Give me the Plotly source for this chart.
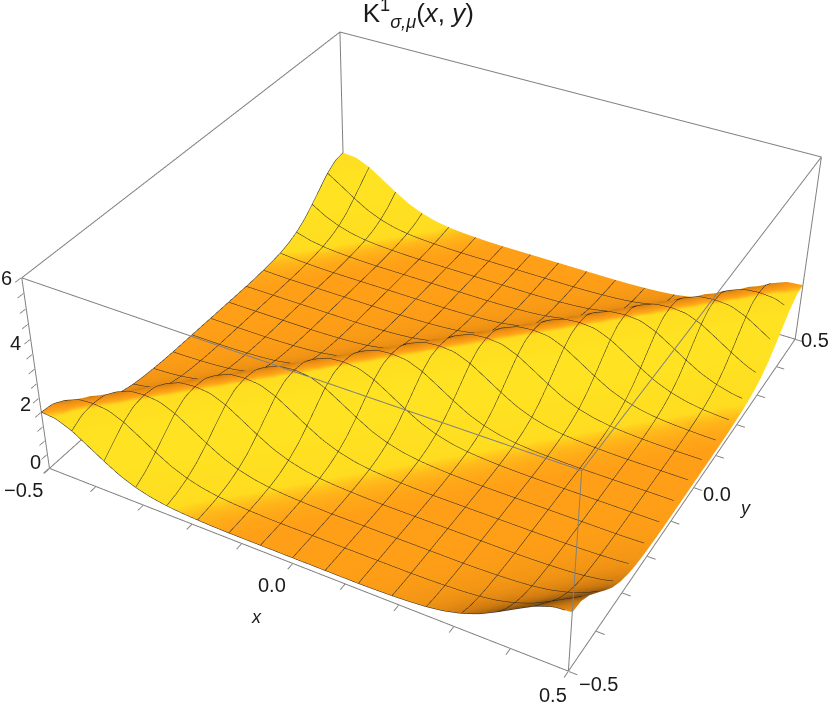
import numpy as np
import plotly.graph_objects as go

x_vals = [-0.5 + k / 32 for k in range(33)]
y_vals = [-0.5 + k / 32 for k in range(33)]
z_rows = [
[1.52,1.47,1.25,.92,.58,.27,.05,-.10,-.19,-.24,-.27,-.29,-.30,-.30,-.30,-.30,-.30,-.30,-.30,-.30,-.30,-.29,-.27,-.24,-.19,-.10,.05,.27,.58,.92,1.25,1.47,1.52],
[1.47,1.52,1.47,1.25,.92,.58,.27,.05,-.10,-.19,-.24,-.27,-.29,-.30,-.30,-.30,-.30,-.30,-.30,-.30,-.30,-.30,-.29,-.27,-.24,-.19,-.10,.05,.27,.58,.92,1.25,1.47],
[1.25,1.47,1.52,1.47,1.25,.92,.58,.27,.05,-.10,-.19,-.24,-.27,-.29,-.30,-.30,-.30,-.30,-.30,-.30,-.30,-.30,-.30,-.29,-.27,-.24,-.19,-.10,.05,.27,.58,.92,1.25],
[.92,1.25,1.47,1.52,1.47,1.25,.92,.58,.27,.05,-.10,-.19,-.24,-.27,-.29,-.30,-.30,-.30,-.30,-.30,-.30,-.30,-.30,-.30,-.29,-.27,-.24,-.19,-.10,.05,.27,.58,.92],
[.58,.92,1.25,1.47,1.52,1.47,1.25,.92,.58,.27,.05,-.10,-.19,-.24,-.27,-.29,-.30,-.30,-.30,-.30,-.30,-.30,-.30,-.30,-.30,-.29,-.27,-.24,-.19,-.10,.05,.27,.58],
[.27,.58,.92,1.25,1.47,1.52,1.47,1.25,.92,.58,.27,.05,-.10,-.19,-.24,-.27,-.29,-.30,-.30,-.30,-.30,-.30,-.30,-.30,-.30,-.30,-.29,-.27,-.24,-.19,-.10,.05,.27],
[.05,.27,.58,.92,1.25,1.47,1.52,1.47,1.25,.92,.58,.27,.05,-.10,-.19,-.24,-.27,-.29,-.30,-.30,-.30,-.30,-.30,-.30,-.30,-.30,-.30,-.29,-.27,-.24,-.19,-.10,.05],
[-.10,.05,.27,.58,.92,1.25,1.47,1.52,1.47,1.25,.92,.58,.27,.05,-.10,-.19,-.24,-.27,-.29,-.30,-.30,-.30,-.30,-.30,-.30,-.30,-.30,-.30,-.29,-.27,-.24,-.19,-.10],
[-.19,-.10,.05,.27,.58,.92,1.25,1.47,1.52,1.47,1.25,.92,.58,.27,.05,-.10,-.19,-.24,-.27,-.29,-.30,-.30,-.30,-.30,-.30,-.30,-.30,-.30,-.30,-.29,-.27,-.24,-.19],
[-.24,-.19,-.10,.05,.27,.58,.92,1.25,1.47,1.52,1.47,1.25,.92,.58,.27,.05,-.10,-.19,-.24,-.27,-.29,-.30,-.30,-.30,-.30,-.30,-.30,-.30,-.30,-.30,-.29,-.27,-.24],
[-.27,-.24,-.19,-.10,.05,.27,.58,.92,1.25,1.47,1.52,1.47,1.25,.92,.58,.27,.05,-.10,-.19,-.24,-.27,-.29,-.30,-.30,-.30,-.30,-.30,-.30,-.30,-.30,-.30,-.29,-.27],
[-.29,-.27,-.24,-.19,-.10,.05,.27,.58,.92,1.25,1.47,1.52,1.47,1.25,.92,.58,.27,.05,-.10,-.19,-.24,-.27,-.29,-.30,-.30,-.30,-.30,-.30,-.30,-.30,-.30,-.30,-.29],
[-.30,-.29,-.27,-.24,-.19,-.10,.05,.27,.58,.92,1.25,1.47,1.52,1.47,1.25,.92,.58,.27,.05,-.10,-.19,-.24,-.27,-.29,-.30,-.30,-.30,-.30,-.30,-.30,-.30,-.30,-.30],
[-.30,-.30,-.29,-.27,-.24,-.19,-.10,.05,.27,.58,.92,1.25,1.47,1.52,1.47,1.25,.92,.58,.27,.05,-.10,-.19,-.24,-.27,-.29,-.30,-.30,-.30,-.30,-.30,-.30,-.30,-.30],
[-.30,-.30,-.30,-.29,-.27,-.24,-.19,-.10,.05,.27,.58,.92,1.25,1.47,1.52,1.47,1.25,.92,.58,.27,.05,-.10,-.19,-.24,-.27,-.29,-.30,-.30,-.30,-.30,-.30,-.30,-.30],
[-.30,-.30,-.30,-.30,-.29,-.27,-.24,-.19,-.10,.05,.27,.58,.92,1.25,1.47,1.52,1.47,1.25,.92,.58,.27,.05,-.10,-.19,-.24,-.27,-.29,-.30,-.30,-.30,-.30,-.30,-.30],
[-.30,-.30,-.30,-.30,-.30,-.29,-.27,-.24,-.19,-.10,.05,.27,.58,.92,1.25,1.47,1.52,1.47,1.25,.92,.58,.27,.05,-.10,-.19,-.24,-.27,-.29,-.30,-.30,-.30,-.30,-.30],
[-.30,-.30,-.30,-.30,-.30,-.30,-.29,-.27,-.24,-.19,-.10,.05,.27,.58,.92,1.25,1.47,1.52,1.47,1.25,.92,.58,.27,.05,-.10,-.19,-.24,-.27,-.29,-.30,-.30,-.30,-.30],
[-.30,-.30,-.30,-.30,-.30,-.30,-.30,-.29,-.27,-.24,-.19,-.10,.05,.27,.58,.92,1.25,1.47,1.52,1.47,1.25,.92,.58,.27,.05,-.10,-.19,-.24,-.27,-.29,-.30,-.30,-.30],
[-.30,-.30,-.30,-.30,-.30,-.30,-.30,-.30,-.29,-.27,-.24,-.19,-.10,.05,.27,.58,.92,1.25,1.47,1.52,1.47,1.25,.92,.58,.27,.05,-.10,-.19,-.24,-.27,-.29,-.30,-.30],
[-.30,-.30,-.30,-.30,-.30,-.30,-.30,-.30,-.30,-.29,-.27,-.24,-.19,-.10,.05,.27,.58,.92,1.25,1.47,1.52,1.47,1.25,.92,.58,.27,.05,-.10,-.19,-.24,-.27,-.29,-.30],
[-.29,-.30,-.30,-.30,-.30,-.30,-.30,-.30,-.30,-.30,-.29,-.27,-.24,-.19,-.10,.05,.27,.58,.92,1.25,1.47,1.52,1.47,1.25,.92,.58,.27,.05,-.10,-.19,-.24,-.27,-.29],
[-.27,-.29,-.30,-.30,-.30,-.30,-.30,-.30,-.30,-.30,-.30,-.29,-.27,-.24,-.19,-.10,.05,.27,.58,.92,1.25,1.47,1.52,1.47,1.25,.92,.58,.27,.05,-.10,-.19,-.24,-.27],
[-.24,-.27,-.29,-.30,-.30,-.30,-.30,-.30,-.30,-.30,-.30,-.30,-.29,-.27,-.24,-.19,-.10,.05,.27,.58,.92,1.25,1.47,1.52,1.47,1.25,.92,.58,.27,.05,-.10,-.19,-.24],
[-.19,-.24,-.27,-.29,-.30,-.30,-.30,-.30,-.30,-.30,-.30,-.30,-.30,-.29,-.27,-.24,-.19,-.10,.05,.27,.58,.92,1.25,1.47,1.52,1.47,1.25,.92,.58,.27,.05,-.10,-.19],
[-.10,-.19,-.24,-.27,-.29,-.30,-.30,-.30,-.30,-.30,-.30,-.30,-.30,-.30,-.29,-.27,-.24,-.19,-.10,.05,.27,.58,.92,1.25,1.47,1.52,1.47,1.25,.92,.58,.27,.05,-.10],
[.05,-.10,-.19,-.24,-.27,-.29,-.30,-.30,-.30,-.30,-.30,-.30,-.30,-.30,-.30,-.29,-.27,-.24,-.19,-.10,.05,.27,.58,.92,1.25,1.47,1.52,1.47,1.25,.92,.58,.27,.05],
[.27,.05,-.10,-.19,-.24,-.27,-.29,-.30,-.30,-.30,-.30,-.30,-.30,-.30,-.30,-.30,-.29,-.27,-.24,-.19,-.10,.05,.27,.58,.92,1.25,1.47,1.52,1.47,1.25,.92,.58,.27],
[.58,.27,.05,-.10,-.19,-.24,-.27,-.29,-.30,-.30,-.30,-.30,-.30,-.30,-.30,-.30,-.30,-.29,-.27,-.24,-.19,-.10,.05,.27,.58,.92,1.25,1.47,1.52,1.47,1.25,.92,.58],
[.92,.58,.27,.05,-.10,-.19,-.24,-.27,-.29,-.30,-.30,-.30,-.30,-.30,-.30,-.30,-.30,-.30,-.29,-.27,-.24,-.19,-.10,.05,.27,.58,.92,1.25,1.47,1.52,1.47,1.25,.92],
[1.25,.92,.58,.27,.05,-.10,-.19,-.24,-.27,-.29,-.30,-.30,-.30,-.30,-.30,-.30,-.30,-.30,-.30,-.29,-.27,-.24,-.19,-.10,.05,.27,.58,.92,1.25,1.47,1.52,1.47,1.25],
[1.47,1.25,.92,.58,.27,.05,-.10,-.19,-.24,-.27,-.29,-.30,-.30,-.30,-.30,-.30,-.30,-.30,-.30,-.30,-.29,-.27,-.24,-.19,-.10,.05,.27,.58,.92,1.25,1.47,1.52,1.47],
[1.52,1.47,1.25,.92,.58,.27,.05,-.10,-.19,-.24,-.27,-.29,-.30,-.30,-.30,-.30,-.30,-.30,-.30,-.30,-.30,-.29,-.27,-.24,-.19,-.10,.05,.27,.58,.92,1.25,1.47,1.52],
]
xy_limits = [-0.5, 0.5]
z_limits = [-0.5, 6]
xy_ticks = [round(-0.5 + 0.1 * k, 1) for k in range(11)]
z_ticks = [-0.5, 0, 0.5, 1, 1.5, 2, 2.5, 3, 3.5, 4, 4.5, 5, 5.5, 6]

W, H = 830, 708
# text label, centre x px, centre y px
tick_texts = [
    ("6", 6, 278), ("4", 15, 343), ("2", 25, 404), ("0", 35, 462),
    ("−0.5", 23, 490), ("0.0", 272, 585), ("0.5", 553, 695),
    ("−0.5", 598, 684), ("0.0", 717, 494), ("0.5", 815, 340),
]
axis_texts = [("<i>x</i>", 256, 617), ("<i>y</i>", 745, 508)]

z = np.array(z_rows)
X, Y = np.meshgrid(x_vals, y_vals)
dzdy, dzdx = np.gradient(z, 1 / 32)
shade = -(dzdx - dzdy)
# the far side of the ridge only darkens a little; the near corner goes brown
shade = np.where(shade < 0, shade * np.where(X - Y < 0.6, 0.5, 0.75), shade)

scale = [
    [0.0, "#33240e"],
    [0.33, "#cf7a10"],
    [0.5, "#FF9F17"],
    [0.52, "#FFA818"],
    [0.59, "#FFDC20"],
    [1.0, "#FFE422"],
]
mesh = dict(show=True, start=-0.5, end=0.5, size=1 / 16, color="#222222", width=2)

fig = go.Figure(go.Surface(
    x=x_vals, y=y_vals, z=z, surfacecolor=shade, colorscale=scale,
    cmin=-24, cmax=24, showscale=False,
    lighting=dict(ambient=1, diffuse=0, specular=0, fresnel=0, roughness=1),
    contours=dict(x=mesh, y=mesh),
    hoverinfo="skip",
))

# the twelve edges of the bounding box
a, b = xy_limits
lo, hi = z_limits
edges = [
    ((a, b), (a, a), (lo, lo)), ((a, b), (b, b), (lo, lo)), ((a, b), (a, a), (hi, hi)), ((a, b), (b, b), (hi, hi)),
    ((a, a), (a, b), (lo, lo)), ((b, b), (a, b), (lo, lo)), ((a, a), (a, b), (hi, hi)), ((b, b), (a, b), (hi, hi)),
    ((a, a), (a, a), (lo, hi)), ((a, a), (b, b), (lo, hi)), ((b, b), (a, a), (lo, hi)), ((b, b), (b, b), (lo, hi)),
]
for ex, ey, ez in edges:
    fig.add_trace(go.Scatter3d(x=ex, y=ey, z=ez, mode="lines",
                               line=dict(color="#808080", width=2), hoverinfo="skip", showlegend=False))

def axis(ticks, rng, pad):
    # the range sits a hair outside the box so that its edges are not clipped
    return dict(
        title=dict(text=""), range=[rng[0] - pad, rng[1] + pad], tickmode="array", tickvals=ticks,
        ticktext=[""] * len(ticks), showticklabels=False,
        ticks="outside", ticklen=3, tickcolor="#808080", tickwidth=2,
        showline=False, mirror=False,
        showgrid=False, zeroline=False, showbackground=False, showspikes=False,
    )

notes = []
for text, px, py in tick_texts + axis_texts:
    notes.append(dict(text=text, xref="paper", yref="paper", x=px / W, y=1 - py / H,
                      xanchor="center", yanchor="middle", showarrow=False,
                      font=dict(size=20 if text[0] != "<" else 18, family="Liberation Sans", color="#1a1a1a")))

fig.update_layout(
    width=W, height=H, margin=dict(l=0, r=0, t=0, b=0),
    paper_bgcolor="white", showlegend=False, annotations=notes,
    title=dict(
        text="K<sup>1</sup><sub><i>σ,μ</i></sub>(<i>x</i>, <i>y</i>)",
        x=0.504, y=0.9815, xanchor="center", yanchor="middle",
        font=dict(size=26, family="Liberation Sans", color="#1a1a1a"),
    ),
    scene=dict(
        domain=dict(x=[0, 1], y=[0, 1]),
        aspectmode="manual", aspectratio=dict(x=1, y=1, z=0.4),
        xaxis=axis(xy_ticks, xy_limits, 0.001),
        yaxis=axis(xy_ticks, xy_limits, 0.001),
        zaxis=axis(z_ticks, z_limits, 0.006),
        camera=dict(
            eye=dict(x=1.3151, y=-2.4415, z=1.9384),
            center=dict(x=-0.0164, y=-0.0595, z=-0.0616),
            up=dict(x=0, y=0, z=1),
        ),
    ),
)

fig.write_html("out.html", config=dict(displayModeBar=False), post_script=(
    "document.body.style.margin='0';"
    "var s=document.getElementById('{plot_id}')._fullLayout.scene._scene.glplot;"
    " s.fovy=0.364; s.redraw();"
))
